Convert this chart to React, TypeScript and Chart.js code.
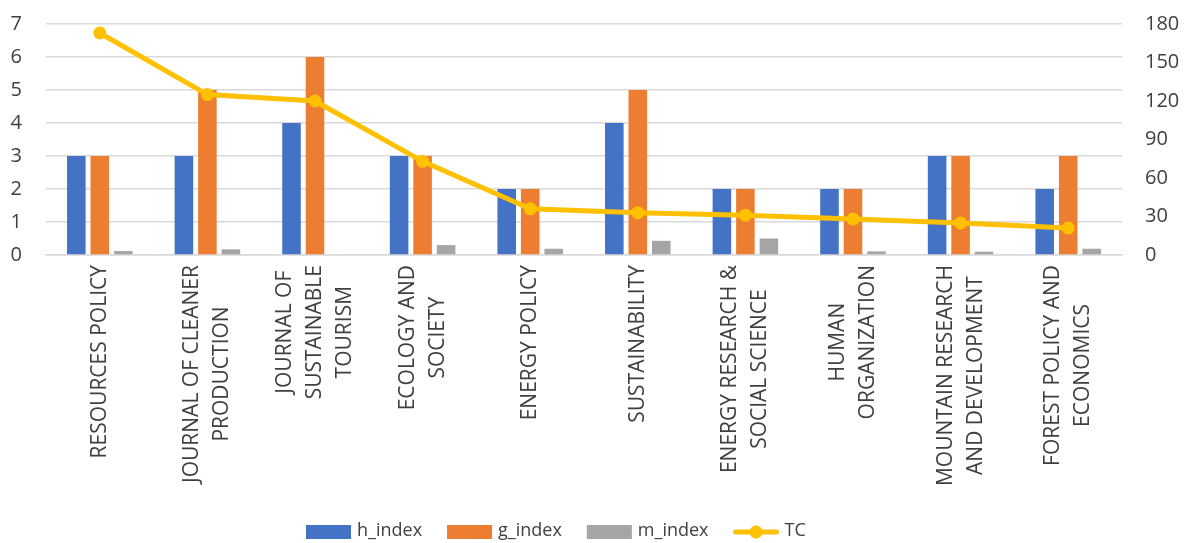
import React, { useEffect, useRef } from "react";
import { Chart, registerables } from "chart.js";

Chart.register(...registerables);

const categories: string[][] = [
  ["RESOURCES POLICY"],
  ["JOURNAL OF CLEANER", "PRODUCTION"],
  ["JOURNAL OF", "SUSTAINABLE", "TOURISM"],
  ["ECOLOGY AND", "SOCIETY"],
  ["ENERGY POLICY"],
  ["SUSTAINABILITY"],
  ["ENERGY RESEARCH &", "SOCIAL SCIENCE"],
  ["HUMAN", "ORGANIZATION"],
  ["MOUNTAIN RESEARCH", "AND DEVELOPMENT"],
  ["FOREST POLICY AND", "ECONOMICS"],
];

const hIndex = [3, 3, 4, 3, 2, 4, 2, 2, 3, 2];
const gIndex = [3, 5, 6, 3, 2, 5, 2, 2, 3, 3];
const mIndex = [0.12, 0.17, 0, 0.3, 0.19, 0.43, 0.5, 0.11, 0.1, 0.19];
const tc = [173, 125, 120, 73, 36, 33, 31, 28, 25, 21];

const FONT = "'Open Sans', 'Noto Sans', sans-serif";
const TEXT = "#404040";
const COLORS = {
  h: "#4472C4",
  g: "#ED7D31",
  m: "#A5A5A5",
  tc: "#FFC000",
};

const customLabels = {
  id: "customLabels",
  afterDraw(chart: any) {
    const ctx = chart.ctx as CanvasRenderingContext2D;
    const xs = chart.scales.x;
    const area = chart.chartArea;
    ctx.save();
    // category labels, rotated, centered lines, block top aligned
    ctx.font = `21px ${FONT}`;
    ctx.fillStyle = TEXT;
    ctx.textAlign = "center";
    ctx.textBaseline = "middle";
    const lineH = 30;
    categories.forEach((lines, i) => {
      const cx = xs.getPixelForValue(i);
      const maxW = Math.max(...lines.map((l) => ctx.measureText(l).width));
      const cy = area.bottom + 10 + maxW / 2;
      ctx.save();
      ctx.translate(cx, cy);
      ctx.rotate(-Math.PI / 2);
      const n = lines.length;
      lines.forEach((l, j) => {
        ctx.fillText(l, 0, (j - (n - 1) / 2) * lineH);
      });
      ctx.restore();
    });

    // legend
    const items = chart.data.datasets.map((d: any) => ({
      label: d.label,
      color: d.backgroundColor,
      isLine: d.type === "line",
    }));
    ctx.font = `18px ${FONT}`;
    ctx.textAlign = "left";
    ctx.textBaseline = "middle";
    let x = 306;
    const cy = 532;
    items.forEach((it: any) => {
      if (it.isLine) {
        ctx.strokeStyle = it.color;
        ctx.lineWidth = 5;
        ctx.lineCap = "round";
        ctx.beginPath();
        ctx.moveTo(x + 2, cy);
        ctx.lineTo(x + 43, cy);
        ctx.stroke();
        ctx.fillStyle = it.color;
        ctx.beginPath();
        ctx.arc(x + 22.5, cy, 6.5, 0, Math.PI * 2);
        ctx.fill();
      } else {
        ctx.fillStyle = it.color;
        ctx.fillRect(x, cy - 7, 45, 14);
      }
      ctx.fillStyle = TEXT;
      ctx.fillText(it.label, x + 51, cy - 1);
      x += 51 + ctx.measureText(it.label).width + 25;
    });
    ctx.restore();
  },
};

export default function App() {
  const ref = useRef<HTMLCanvasElement | null>(null);

  useEffect(() => {
    document.body.style.margin = "0";
    if (!ref.current) return;
    const chart = new Chart(ref.current, {
      type: "bar",
      data: {
        labels: categories.map((c) => c.join(" ")),
        datasets: [
          {
            type: "bar",
            label: "h_index",
            data: hIndex,
            backgroundColor: COLORS.h,
            yAxisID: "y",
            order: 1,
            categoryPercentage: 0.655,
            barPercentage: 0.79,
          },
          {
            type: "bar",
            label: "g_index",
            data: gIndex,
            backgroundColor: COLORS.g,
            yAxisID: "y",
            order: 1,
            categoryPercentage: 0.655,
            barPercentage: 0.79,
          },
          {
            type: "bar",
            label: "m_index",
            data: mIndex,
            backgroundColor: COLORS.m,
            yAxisID: "y",
            order: 1,
            categoryPercentage: 0.655,
            barPercentage: 0.79,
          },
          {
            type: "line",
            label: "TC",
            data: tc,
            borderColor: COLORS.tc,
            backgroundColor: COLORS.tc,
            borderWidth: 5,
            pointRadius: 6.5,
            pointBackgroundColor: COLORS.tc,
            pointBorderWidth: 0,
            yAxisID: "y1",
            order: 0,
          } as any,
        ],
      },
      options: {
        animation: false,
        responsive: false,
        maintainAspectRatio: false,
        layout: { padding: { top: 24, bottom: 288, left: 0, right: 0 } },
        plugins: {
          legend: { display: false },
          tooltip: { enabled: false },
        },
        scales: {
          x: {
            grid: { display: false, drawTicks: false },
            border: { display: true, color: "#D9D9D9", width: 1.5 },
            ticks: { display: false },
          },
          y: {
            position: "left",
            min: 0,
            max: 7,
            ticks: {
              stepSize: 1,
              padding: 3,
              color: TEXT,
              font: { family: FONT, size: 20 },
            },
            grid: {
              color: "#D9D9D9",
              lineWidth: 1.5,
              drawTicks: true,
              tickLength: 21,
              tickColor: "rgba(0,0,0,0)",
            },
            border: { display: false },
            afterFit: (s: any) => {
              s.width = 46;
            },
          },
          y1: {
            position: "right",
            min: 0,
            max: 180,
            ticks: {
              stepSize: 30,
              padding: 3,
              color: TEXT,
              font: { family: FONT, size: 20 },
            },
            grid: {
              display: false,
              drawTicks: true,
              tickLength: 20,
              tickColor: "rgba(0,0,0,0)",
            },
            border: { display: false },
            afterFit: (s: any) => {
              s.width = 65;
            },
          },
        },
      },
      plugins: [customLabels],
    });
    return () => chart.destroy();
  }, []);

  return (
    <div style={{ width: 1187, height: 543 }}>
      <canvas ref={ref} width={1187} height={543} style={{ width: 1187, height: 543 }} />
    </div>
  );
}
